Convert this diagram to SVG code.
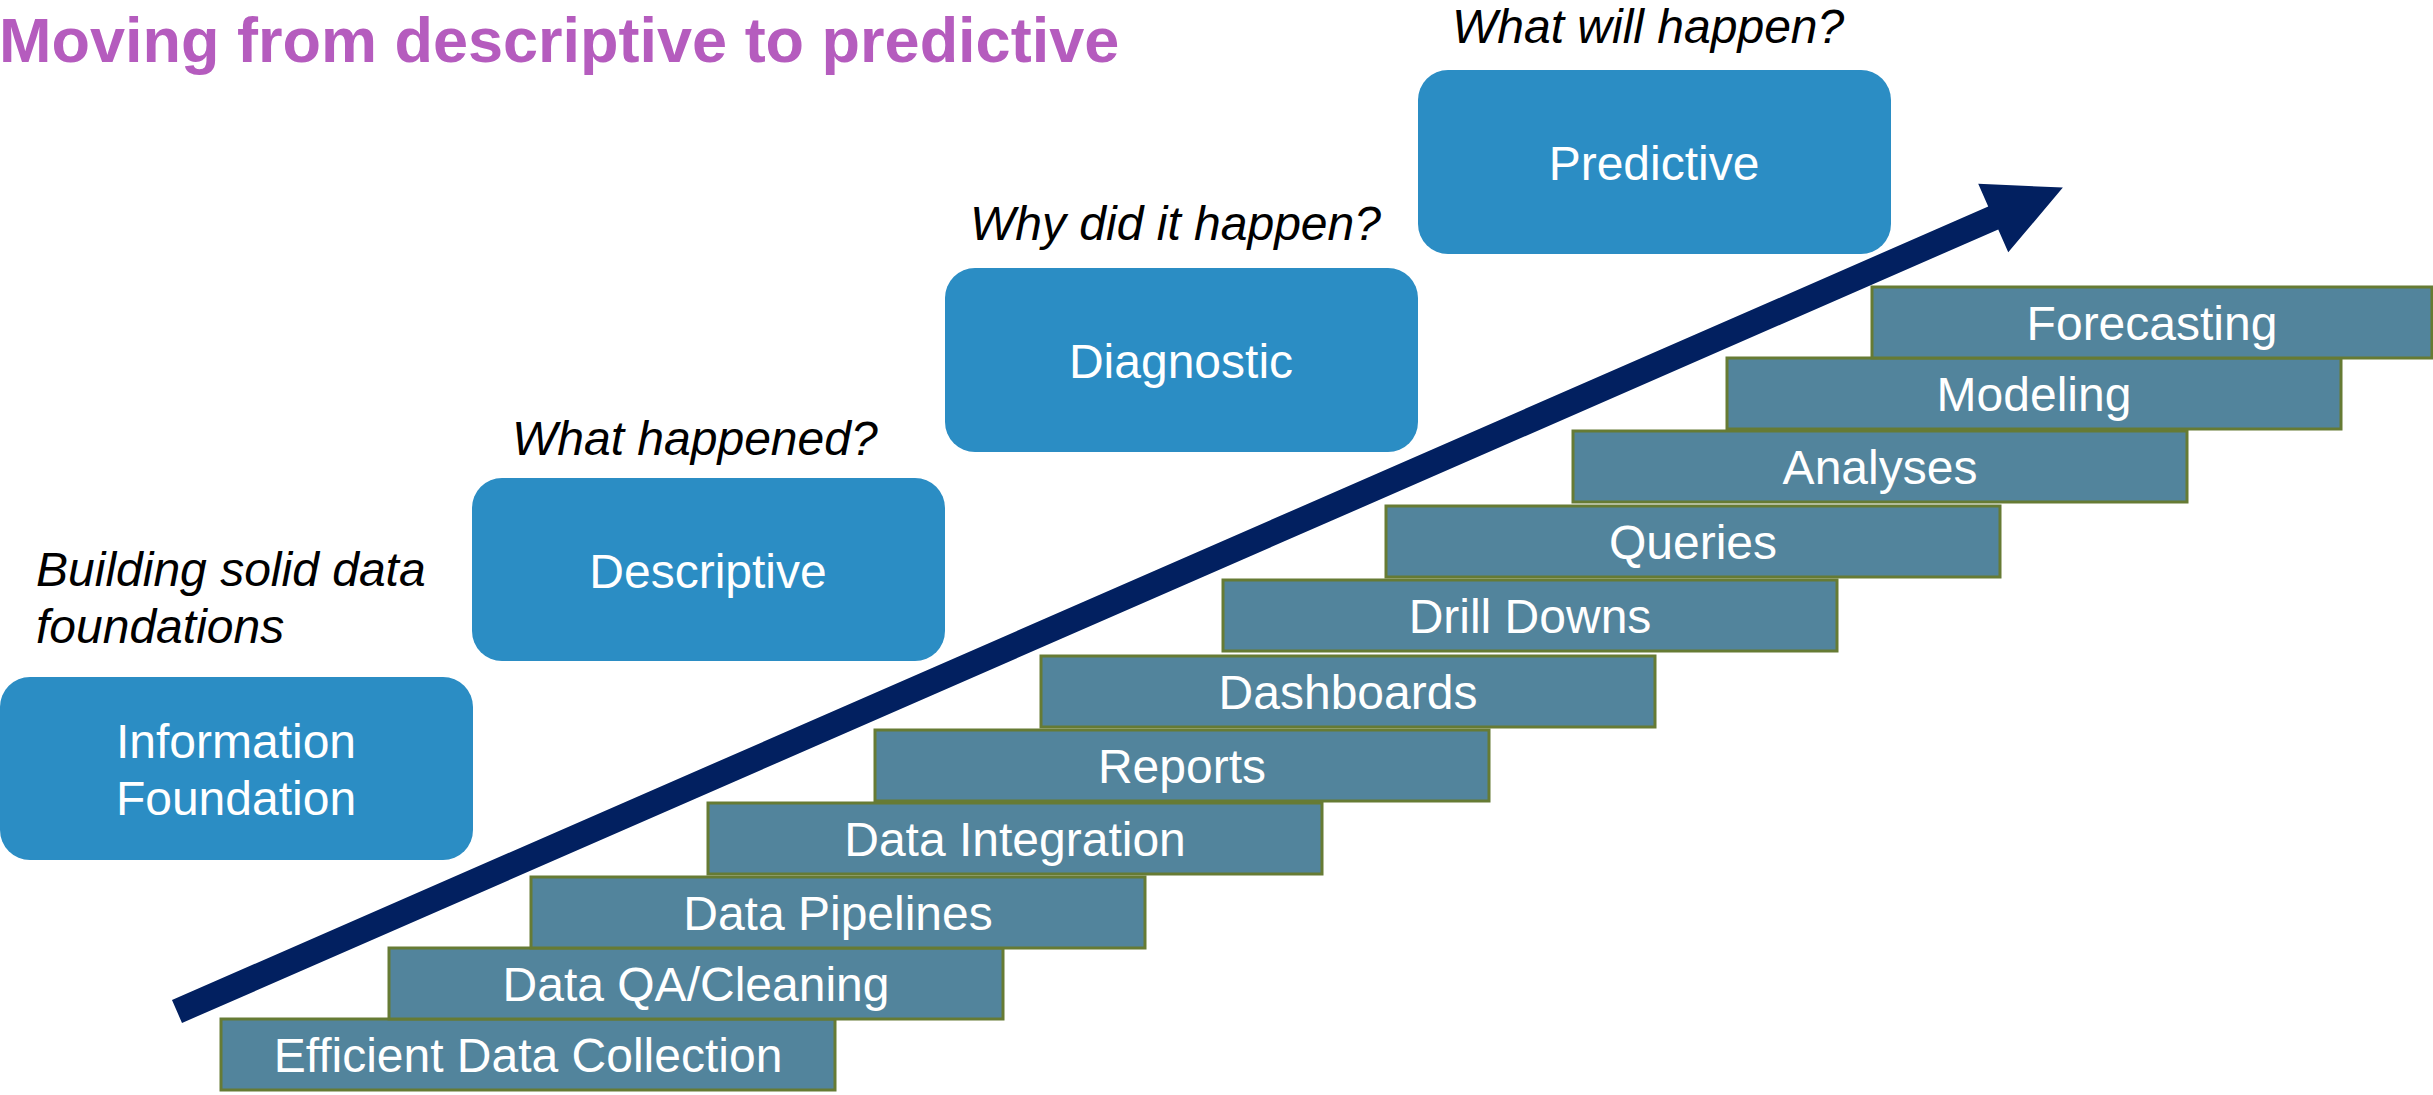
<svg xmlns="http://www.w3.org/2000/svg" width="2433" height="1095" viewBox="0 0 2433 1095">
  <style>
    .title { font-family: "Liberation Sans", Arial, sans-serif; font-weight: bold; font-size: 63px; fill: #B55CBE; }
    .q { font-family: "Liberation Sans", Arial, sans-serif; font-style: italic; font-size: 48px; fill: #000000; }
    .stage rect { fill: #2B8DC4; }
    .stage text { font-family: "Liberation Sans", Arial, sans-serif; font-size: 48px; fill: #FFFFFF; text-anchor: middle; }
    .step rect { fill: #52849C; stroke: #667B34; stroke-width: 3; }
    .step text { font-family: "Liberation Sans", Arial, sans-serif; font-size: 48px; fill: #FFFFFF; text-anchor: middle; }
    .trend { fill: #022060; }
  </style>

  <text class="title" x="-1" y="62">Moving from descriptive to predictive</text>

  <!-- analytics stages -->
  <g id="stage-foundation" class="stage">
    <rect x="0" y="677" width="473" height="183" rx="30" ry="30"/>
    <text x="236" y="758">Information</text>
    <text x="236" y="815">Foundation</text>
  </g>
  <g id="stage-descriptive" class="stage">
    <rect x="472" y="478" width="473" height="183" rx="30" ry="30"/>
    <text x="708" y="588">Descriptive</text>
  </g>
  <g id="stage-diagnostic" class="stage">
    <rect x="945" y="268" width="473" height="184" rx="30" ry="30"/>
    <text x="1181" y="378">Diagnostic</text>
  </g>
  <g id="stage-predictive" class="stage">
    <rect x="1418" y="70" width="473" height="184" rx="30" ry="30"/>
    <text x="1654" y="180">Predictive</text>
  </g>

  <!-- stage questions -->
  <g id="questions">
    <text class="q" x="36" y="586">Building solid data</text>
    <text class="q" x="36" y="643">foundations</text>
    <text class="q" x="512" y="455">What happened?</text>
    <text class="q" x="970" y="240">Why did it happen?</text>
    <text class="q" x="1452" y="43">What will happen?</text>
  </g>

  <!-- capability staircase -->
  <g id="step-collection" class="step">
    <rect x="221" y="1019" width="614" height="71"/>
    <text x="528" y="1072">Efficient Data Collection</text>
  </g>
  <g id="step-cleaning" class="step">
    <rect x="389" y="948" width="614" height="71"/>
    <text x="696" y="1001">Data QA/Cleaning</text>
  </g>
  <g id="step-pipelines" class="step">
    <rect x="531" y="877" width="614" height="71"/>
    <text x="838" y="930">Data Pipelines</text>
  </g>
  <g id="step-integration" class="step">
    <rect x="708" y="803" width="614" height="71"/>
    <text x="1015" y="856">Data Integration</text>
  </g>
  <g id="step-reports" class="step">
    <rect x="875" y="730" width="614" height="71"/>
    <text x="1182" y="783">Reports</text>
  </g>
  <g id="step-dashboards" class="step">
    <rect x="1041" y="656" width="614" height="71"/>
    <text x="1348" y="709">Dashboards</text>
  </g>
  <g id="step-drilldowns" class="step">
    <rect x="1223" y="580" width="614" height="71"/>
    <text x="1530" y="633">Drill Downs</text>
  </g>
  <g id="step-queries" class="step">
    <rect x="1386" y="506" width="614" height="71"/>
    <text x="1693" y="559">Queries</text>
  </g>
  <g id="step-analyses" class="step">
    <rect x="1573" y="431" width="614" height="71"/>
    <text x="1880" y="484">Analyses</text>
  </g>
  <g id="step-modeling" class="step">
    <rect x="1727" y="358" width="614" height="71"/>
    <text x="2034" y="411">Modeling</text>
  </g>
  <g id="step-forecasting" class="step">
    <rect x="1872" y="287" width="560" height="71"/>
    <text x="2152" y="340">Forecasting</text>
  </g>

  <!-- rising trend arrow -->
  <g id="connectors">
    <polygon class="trend" transform="translate(177 1011.5) rotate(-23.6)"
      points="0,-12.5 1982,-12.5 1982,-37.5 2058,0 1982,37.5 1982,12.5 0,12.5"/>
  </g>
</svg>
